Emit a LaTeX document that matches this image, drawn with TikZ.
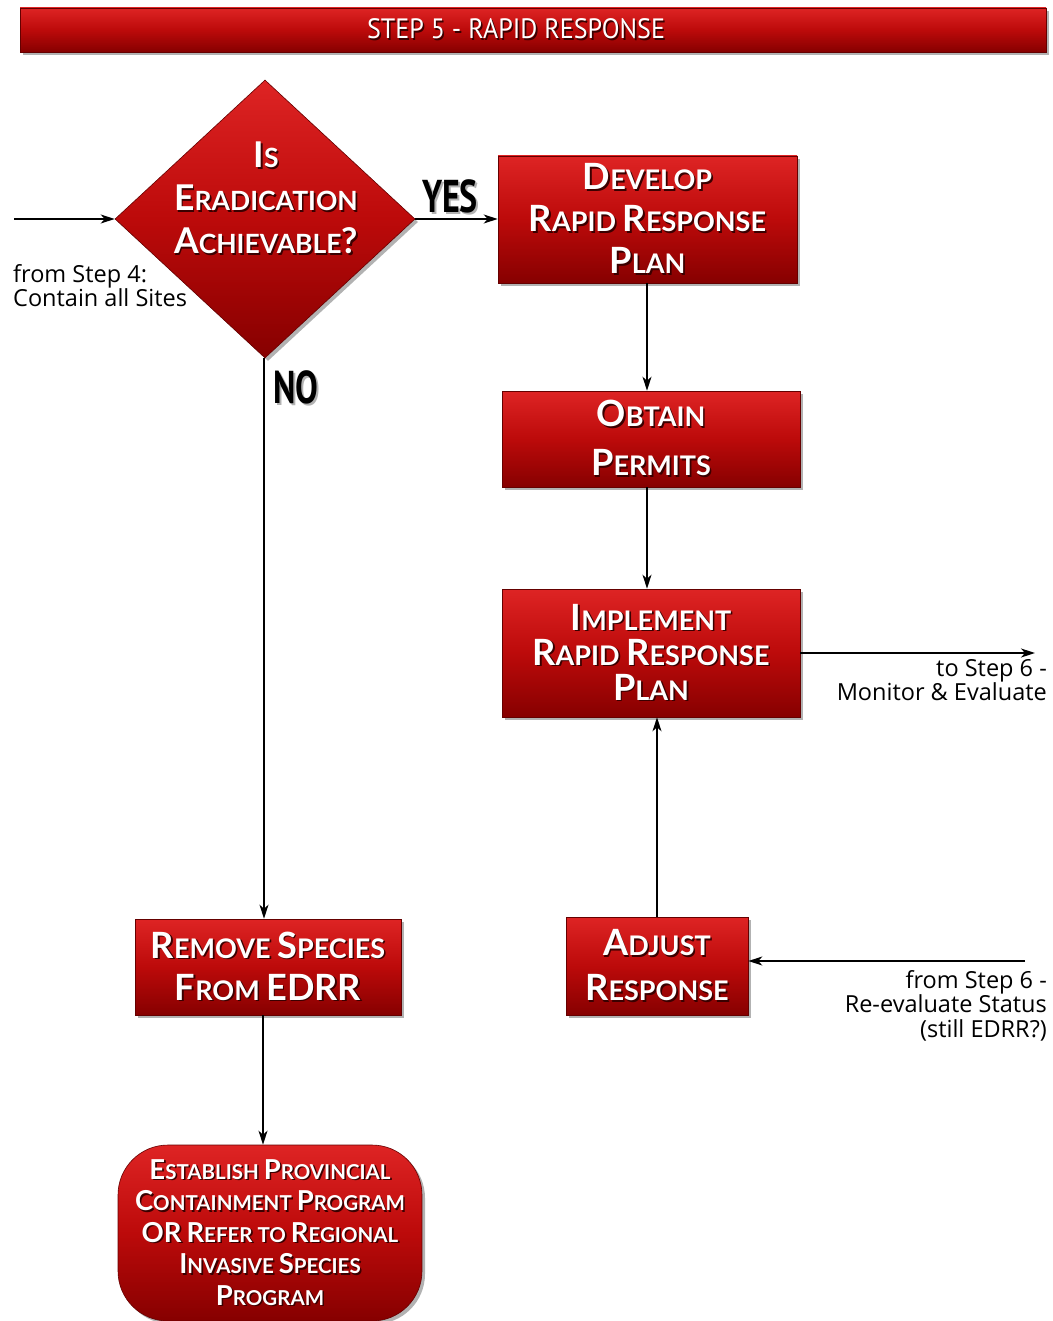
\documentclass[tikz,border=0pt]{standalone}
\usepackage{graphicx}
\usepackage{fontspec}
\setmainfont{Lato}
\newfontfamily\labelfont{Open Sans}
\newfontfamily\headfont{PT Sans}
\usetikzlibrary{shapes.geometric,shadows,arrows.meta}

\definecolor{rtop}{HTML}{DE2424}
\definecolor{rmid}{HTML}{BC0A0A}
\definecolor{rbot}{HTML}{860000}
\definecolor{tshade}{HTML}{3A0000}

% enlarged initial for the small-caps look
\newcommand\Cap[1]{\scalebox{1.34}{#1}}
% white text with a dark offset copy behind it
\newcommand\sh[1]{\leavevmode\rlap{\hspace{1.6pt}\raisebox{-1.6pt}{\textcolor{tshade}{#1}}}#1}
% black text with a soft grey offset copy behind it
\newcommand\shg[1]{\leavevmode\rlap{\hspace{2pt}\raisebox{-2pt}{\textcolor{black!30}{#1}}}#1}

\tikzset{
  redfill/.style={top color=rtop, bottom color=rbot, middle color=rmid},
  shade3d/.style={drop shadow={shadow xshift=3pt, shadow yshift=-3pt, opacity=0.3, fill=black}},
  stepbox/.style={rectangle, redfill, draw=rbot!75!black, line width=0.6pt, shade3d,
    text=white, align=center, inner sep=0pt},
  decision/.style={diamond, redfill, draw=rbot!75!black, line width=0.6pt, shade3d,
    inner sep=0pt},
  endbox/.style={rectangle, rounded corners=50pt, redfill, draw=rbot!75!black, line width=0.6pt,
    shade3d, text=white, align=center, inner sep=0pt},
  btext/.style={text=white, align=center, inner sep=0pt},
  flow/.style={line width=1.5pt, -{Stealth[length=14pt, width=9pt, inset=4pt]}},
  note/.style={inner sep=0pt, font=\labelfont\fontsize{23.5}{24.5}\selectfont},
  verdict/.style={inner sep=0pt, font=\headfont\bfseries\fontsize{46}{46}\selectfont},
}

\begin{document}
\begin{tikzpicture}[x=1pt, y=-1pt]
\useasboundingbox (0,0) rectangle (1052,1321);

% title bar
\node[stepbox, minimum width=1026, minimum height=44] (header) at (533,30) {};
\node[btext, font=\headfont\fontsize{28}{28}\selectfont] (title) at (516,30)
  {\sh{\scalebox{0.93}[1]{STEP 5 - RAPID RESPONSE}}};

% decision
\node[decision, minimum width=300, minimum height=278] (dec) at (265,219) {};
\node[btext, font=\bfseries\fontsize{26.5}{43}\selectfont] (dectext) at (266,199)
  {\sh{\Cap{I}S}\\ \sh{\Cap{E}RADICATION}\\ \sh{\Cap{A}CHIEVABLE\Cap{?}}};

% right-hand branch
\node[stepbox, minimum width=299, minimum height=127, font=\bfseries\fontsize{27}{42}\selectfont]
  (develop) at (647.5,219.5)
  {\sh{\Cap{D}EVELOP}\\ \sh{\Cap{R}APID \Cap{R}ESPONSE}\\ \sh{\Cap{P}LAN}};
\node[stepbox, minimum width=298, minimum height=96, font=\bfseries\fontsize{27}{49}\selectfont]
  (permits) at (651,439)
  {\sh{\Cap{O}BTAIN}\\ \sh{\Cap{P}ERMITS}};
\node[stepbox, minimum width=298, minimum height=128, font=\bfseries\fontsize{27}{35}\selectfont]
  (implement) at (651,653)
  {\sh{\Cap{I}MPLEMENT}\\ \sh{\Cap{R}APID \Cap{R}ESPONSE}\\ \sh{\Cap{P}LAN}};
\node[stepbox, minimum width=182, minimum height=98, font=\bfseries\fontsize{27}{45}\selectfont]
  (adjust) at (657,966)
  {\sh{\Cap{A}DJUST}\\ \sh{\Cap{R}ESPONSE}};

% left-hand branch
\node[stepbox, minimum width=266, minimum height=96, font=\bfseries\fontsize{27}{42}\selectfont]
  (remove) at (268,967)
  {\sh{\Cap{R}EMOVE \Cap{S}PECIES}\\ \sh{\Cap{F}ROM \Cap{EDRR}}};
\node[endbox, minimum width=304, minimum height=176, font=\bfseries\fontsize{20.5}{31.5}\selectfont]
  (establish) at (270,1233)
  {\sh{\Cap{E}STABLISH \Cap{P}ROVINCIAL}\\ \sh{\Cap{C}ONTAINMENT \Cap{P}ROGRAM}\\
   \sh{\Cap{OR} \Cap{R}EFER TO \Cap{R}EGIONAL}\\ \sh{\Cap{I}NVASIVE \Cap{S}PECIES}\\
   \sh{\Cap{P}ROGRAM}};

% loose ends
\coordinate (in4) at (14,219);
\coordinate (out6) at (1035,653);
\coordinate (in6) at (1025,961);

% connectors
\draw[flow] (in4) -- (dec.west);
\draw[flow] (dec.east) -- (develop.west |- dec.east);
\draw[flow] (develop.south -| 647,0) -- (647,0 |- permits.north);
\draw[flow] (647,0 |- permits.south) -- (647,0 |- implement.north);
\draw[flow] (implement.east |- out6) -- (out6);
\draw[flow] (adjust.north) -- (adjust.north |- implement.south);
\draw[flow] (in6) -- (in6 -| adjust.east);
\draw[flow] (dec.south -| 264,0) -- (264,0 |- remove.north);
\draw[flow] (263,0 |- remove.south) -- (263,0 |- establish.north);

% labels
\node[verdict] (yes) at (450,197) {\shg{\scalebox{0.74}[1]{YES}}};
\node[verdict] (no) at (296,388) {\shg{\scalebox{0.74}[1]{NO}}};
\node[note, anchor=north west, align=left] (from4) at (13,264)
  {from Step 4:\\Contain all Sites};
\node[note, anchor=north east, align=right] (to6) at (1047,659)
  {to Step 6 -\\Monitor \& Evaluate};
\node[note, anchor=north east, align=right] (from6) at (1047,970)
  {from Step 6 -\\Re-evaluate Status\\(still EDRR?)};
\end{tikzpicture}
\end{document}
